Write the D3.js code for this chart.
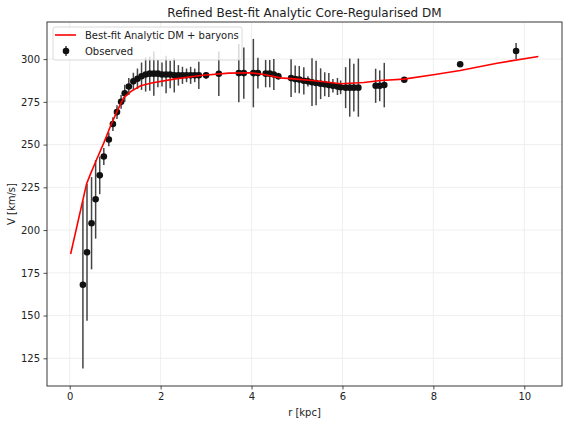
<!DOCTYPE html>
<html><head><meta charset="utf-8">
<script src="https://cdn.jsdelivr.net/npm/d3@7"></script>
<style>body{margin:0;background:#fff}svg{font-family:"DejaVu Sans",sans-serif}</style>
</head><body><svg id="c" width="568" height="424"></svg>
<script>
const obsR = [0.29,0.38,0.48,0.57,0.66,0.75,0.86,0.95,1.04,1.13,1.21,1.30,1.40,1.49,1.58,1.67,1.76,1.85,1.94,2.03,2.12,2.21,2.30,2.39,2.48,2.57,2.66,2.75,2.84,3.00,3.28,3.72,3.83,4.04,4.14,4.31,4.40,4.49,4.59,4.87,4.96,5.05,5.15,5.24,5.33,5.42,5.52,5.61,5.70,5.79,5.89,5.96,6.07,6.16,6.25,6.35,6.73,6.82,6.92,7.36,8.59,9.82];
const obsV = [168,187,204,218,232,243,253,262,269,275,280,284,287,288.5,290,291,291.5,291.5,291.5,291,291,291,290.5,290.5,290.5,290.5,290.5,290.5,290.5,290.5,291.4,291.8,291.8,291.8,291.8,291.5,291.5,291,290,288.9,288.3,288,287.3,287,286.5,286,285.6,285.3,284.8,284.4,284,283.5,283.3,283.3,283.3,283.3,284.4,284.4,284.8,287.9,297,304.7];
const obsErr = [49,40,27,23,11,5,4,4,4,4,5,5,5,6,8,10,10,13,8,7,11,8,10,6,5,4,5,4,8,2,13,17,15,20,9,8,8,9,2,11,8,8,8,3,14,13,9,7,7,4,5,4,12,17,14,17,10,9,13,1,1,4.7];
const fitR = [0.02,0.37,0.46,0.57,0.75,0.9,1.05,1.19,1.34,1.56,1.8,2.29,2.88,3.5,4.0,4.3,4.64,5.0,5.5,5.96,6.47,6.84,7.35,8.0,8.59,9.4,10.31];
const fitV = [186,227,233,240,251,261,270,277.5,281,284.4,286,288.3,290.4,291.8,292,290.8,289,288.3,287,285.6,286.3,287.5,288.3,290.8,293.3,297.6,301.5];
const xTicks = [0,2,4,6,8,10];
const yTicks = [125,150,175,200,225,250,275,300];
const titleText = "Refined Best-fit Analytic Core-Regularised DM";
const xLabel = "r [kpc]", yLabel = "V [km/s]";
const legendLabels = ["Best-fit Analytic DM + baryons","Observed"];

const svg = d3.select("#c");
const L=47,R=562,T=22,B=386;
const x = d3.scaleLinear().domain([-0.5,10.83]).range([L,R]);
const y = d3.scaleLinear().domain([108.8,321.7]).range([B,T]);

// grid
svg.append("g").selectAll("line").data(xTicks).join("line")
  .attr("x1",d=>x(d)).attr("x2",d=>x(d)).attr("y1",T).attr("y2",B)
  .attr("stroke","#ebebeb").attr("stroke-width",0.8);
svg.append("g").selectAll("line").data(yTicks).join("line")
  .attr("x1",L).attr("x2",R).attr("y1",d=>y(d)).attr("y2",d=>y(d))
  .attr("stroke","#ebebeb").attr("stroke-width",0.8);

// axes
const xa = svg.append("g").attr("transform",`translate(0,${B})`)
  .call(d3.axisBottom(x).tickValues(xTicks).tickSize(3.5).tickPadding(3.5).tickFormat(d3.format("d")));
const ya = svg.append("g").attr("transform",`translate(${L},0)`)
  .call(d3.axisLeft(y).tickValues(yTicks).tickSize(3.5).tickPadding(3.5).tickFormat(d3.format("d")));
[xa,ya].forEach(a=>{a.select(".domain").remove();
  a.selectAll("text").attr("font-size",10).attr("fill","#222").attr("font-family","DejaVu Sans");
  a.selectAll("line").attr("stroke","#222").attr("stroke-width",0.8);});

// error bars
svg.append("g").selectAll("line").data(obsR).join("line")
  .attr("x1",d=>x(d)).attr("x2",d=>x(d))
  .attr("y1",(d,i)=>y(obsV[i]-obsErr[i])).attr("y2",(d,i)=>y(obsV[i]+obsErr[i]))
  .attr("stroke","#444").attr("stroke-width",1.5);
svg.append("g").selectAll("circle").data(obsR).join("circle")
  .attr("cx",d=>x(d)).attr("cy",(d,i)=>y(obsV[i])).attr("r",3.3).attr("fill","#111");

// fit line
svg.append("path").datum(fitR.map((r,i)=>[r,fitV[i]]))
  .attr("d",d3.line().x(d=>x(d[0])).y(d=>y(d[1])))
  .attr("fill","none").attr("stroke","#ff0000").attr("stroke-width",1.6);

// frame
svg.append("rect").attr("x",L).attr("y",T).attr("width",R-L).attr("height",B-T)
  .attr("fill","none").attr("stroke","#222").attr("stroke-width",0.9);

// legend
const lg = svg.append("g");
lg.append("rect").attr("x",53).attr("y",27).attr("width",189).attr("height",33).attr("rx",2)
  .attr("fill","#fff").attr("fill-opacity",0.8).attr("stroke","#d0d0d0").attr("stroke-width",0.8);
lg.append("line").attr("x1",55).attr("x2",76).attr("y1",35).attr("y2",35).attr("stroke","#ff0000").attr("stroke-width",1.6);
lg.append("line").attr("x1",66).attr("x2",66).attr("y1",46).attr("y2",56).attr("stroke","#444").attr("stroke-width",1.5);
lg.append("circle").attr("cx",66).attr("cy",51).attr("r",3.3).attr("fill","#111");
lg.selectAll("text").data(legendLabels).join("text")
  .attr("x",85).attr("y",(d,i)=>38.5+i*16).attr("font-size",10).attr("fill","#222").text(d=>d);

// titles
svg.append("text").attr("x",(L+R)/2).attr("y",17).attr("text-anchor","middle").attr("font-size",12).attr("fill","#222").text(titleText);
svg.append("text").attr("x",(L+R)/2).attr("y",416).attr("text-anchor","middle").attr("font-size",10).attr("fill","#222").text(xLabel);
svg.append("text").attr("transform",`translate(15,${(T+B)/2}) rotate(-90)`).attr("text-anchor","middle").attr("font-size",10).attr("fill","#222").text(yLabel);
</script></body></html>
